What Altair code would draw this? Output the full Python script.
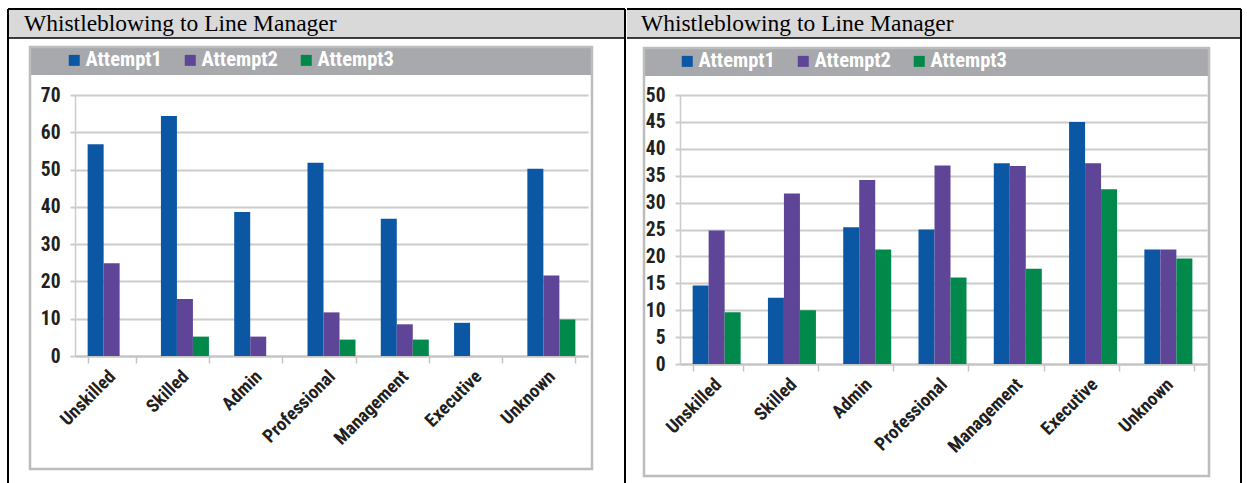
import altair as alt
import pandas as pd

header_title = "Whistleblowing to Line Manager"
categories = ["Unskilled", "Skilled", "Admin", "Professional", "Management", "Executive", "Unknown"]
series = ["Attempt1", "Attempt2", "Attempt3"]
colors = ["#0b57a4", "#5f4597", "#00894a"]

# Left chart values
left_attempt1 = [56.8, 64.4, 38.6, 51.8, 36.8, 8.9, 50.2]
left_attempt2 = [24.9, 15.3, 5.2, 11.7, 8.5, 0.0, 21.6]
left_attempt3 = [0.0, 5.2, 0.0, 4.4, 4.4, 0.0, 9.8]
left_ticks = [0, 10, 20, 30, 40, 50, 60, 70]

# Right chart values
right_attempt1 = [14.6, 12.3, 25.4, 25.0, 37.3, 45.0, 21.3]
right_attempt2 = [24.8, 31.7, 34.2, 36.9, 36.8, 37.3, 21.3]
right_attempt3 = [9.6, 10.0, 21.3, 16.1, 17.7, 32.5, 19.6]
right_ticks = [0, 5, 10, 15, 20, 25, 30, 35, 40, 45, 50]

NARROW = "'Roboto Condensed', 'Archivo Narrow', sans-serif"
SERIF = "'Liberation Serif', 'Times New Roman', serif"


def long_df(a1, a2, a3):
    rows = []
    for s, vals in zip(series, [a1, a2, a3]):
        for c, v in zip(categories, vals):
            rows.append({"category": c, "series": s, "value": v})
    return pd.DataFrame(rows)


one = alt.Data(values=[{"k": 1}])


def rect(x1, x2, y1, y2, **kw):
    return alt.Chart(one).mark_rect(**kw).encode(
        x=alt.value(x1), x2=alt.value(x2), y=alt.value(y1), y2=alt.value(y2))


def hline(x1, x2, y, color, w):
    return alt.Chart(one).mark_rule(color=color, strokeWidth=w).encode(
        x=alt.value(x1), x2=alt.value(x2), y=alt.value(y))


def vline(x, y1, y2, color, w):
    return alt.Chart(one).mark_rule(color=color, strokeWidth=w).encode(
        x=alt.value(x), y=alt.value(y1), y2=alt.value(y2))


def text(x, y, s):
    return alt.Chart(one).mark_text(
        align="left", baseline="alphabetic", font=SERIF, fontSize=23.5, color="black"
    ).encode(x=alt.value(x), y=alt.value(y), text=alt.value(s))


def bars(df, ymax, ticks, pad_inner, leg_x, leg_y):
    return alt.Chart(df).mark_bar().encode(
        x=alt.X("category:N", sort=categories, title=None,
                scale=alt.Scale(paddingInner=pad_inner, paddingOuter=pad_inner / 2),
                axis=alt.Axis(labelAngle=-45, labelAlign="right", labelBaseline="middle",
                              labelFont=NARROW, labelFontSize=18.5, labelFontWeight="bold",
                              labelColor="#231f20", labelPadding=10, tickBand="extent",
                              tickSize=7, tickColor="#c4c4c4", tickWidth=1.5,
                              domainColor="#c4c4c4", domainWidth=2, grid=False)),
        xOffset=alt.XOffset("series:N", sort=series),
        y=alt.Y("value:Q", title=None,
                scale=alt.Scale(domain=[0, ymax], nice=False),
                axis=alt.Axis(values=ticks, grid=True, gridColor="#cccccc", gridWidth=2,
                              domainColor="#cccccc", domainWidth=1.5,
                              tickSize=5, tickColor="#cccccc", tickWidth=2,
                              labelFont=NARROW, labelFontSize=19.5, labelFontWeight="bold",
                              labelColor="#231f20", labelPadding=10)),
        color=alt.Color("series:N", sort=series,
                        scale=alt.Scale(domain=series, range=colors),
                        legend=alt.Legend(orient="none", legendX=leg_x, legendY=leg_y,
                                          direction="horizontal", title=None,
                                          symbolType="square", symbolSize=121,
                                          symbolStrokeWidth=0, symbolOpacity=1,
                                          labelFont=NARROW, labelFontSize=20.5,
                                          labelFontWeight="bold", labelColor="white",
                                          labelOffset=1, columnPadding=18, padding=0)),
    )


left = alt.layer(
    rect(-67, 550, -86, -57, fill="#d9d9d9"),
    hline(-67, 550, -86, "black", 2),
    vline(-67, -86, 388, "black", 2),
    vline(550, -86, 388, "black", 2),
    hline(-67, 550, -57, "black", 1.5),
    text(-51, -64, header_title),
    rect(-45, 517, -48, -20, fill="#a7a9ac"),
    rect(-45, 517, -48, 374, filled=False, stroke="#bdbdbd", strokeWidth=2.5),
    bars(long_df(left_attempt1, left_attempt2, left_attempt3), 70, left_ticks, 0.345, -11, -45),
).properties(width=513, height=261)

right = alt.layer(
    rect(-53, 561, -86, -57, fill="#d9d9d9"),
    hline(-53, 561, -86, "black", 2),
    vline(561, -86, 388, "black", 2),
    hline(-53, 561, -57, "black", 1.5),
    text(-39, -64, header_title),
    rect(-36, 529, -47, -19, fill="#a7a9ac"),
    rect(-36, 529, -47, 381, filled=False, stroke="#bdbdbd", strokeWidth=2.5),
    bars(long_df(right_attempt1, right_attempt2, right_attempt3), 50, right_ticks, 0.336, -3, -44),
).properties(width=527, height=269)

chart = alt.hconcat(left, right, spacing=0).resolve_scale(
    color="independent", x="independent", y="independent"
).resolve_legend(color="independent").properties(
    padding={"left": 7, "top": 8, "right": 0, "bottom": 0}
).configure_view(strokeWidth=0)

chart.save("out.html", embed_options={"renderer": "svg", "actions": False})
